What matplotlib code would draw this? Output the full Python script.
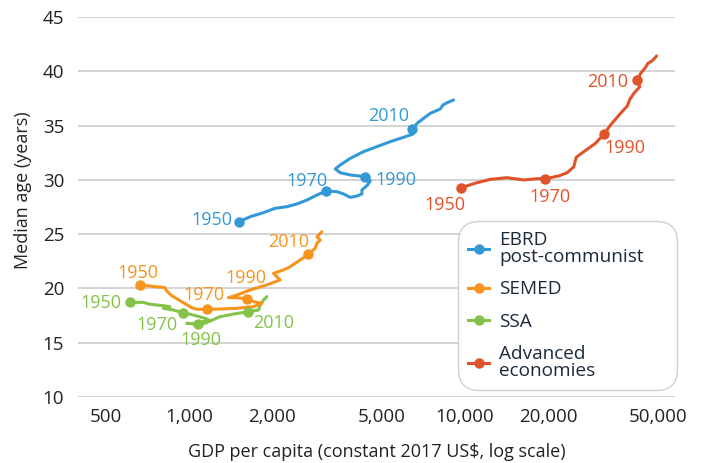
import matplotlib
matplotlib.use("Agg")
import matplotlib.pyplot as plt
from matplotlib.ticker import FixedLocator, FixedFormatter, NullLocator

plt.rcParams['font.family'] = ['Open Sans', 'DejaVu Sans']

# ---------------- data ----------------
years = ["1950", "1970", "1990", "2010"]

ebrd_gdp = [1518, 1665, 1860, 2051, 2261, 2458, 2672, 2904, 3140, 3432, 3628, 3837,
            4056, 4229, 4229, 4433, 4534, 4323, 3837, 3529, 3385, 3529, 3837, 4287,
            4794, 5359, 5989, 6476, 6422, 6695, 7076, 7484, 8134, 8316, 8598, 9089]
ebrd_age = [26.15, 26.6, 26.98, 27.38, 27.53, 27.78, 28.14, 28.6, 28.97, 28.91, 28.7, 28.39,
            28.51, 28.7, 29.07, 29.53, 29.93, 30.3, 30.45, 30.66, 31.0, 31.37, 31.98, 32.6,
            33.06, 33.52, 33.92, 34.22, 34.65, 35.2, 35.67, 36.13, 36.53, 36.9, 37.1, 37.36]
ebrd_mark_gdp = [1518, 3140, 4323, 6422]
ebrd_mark_age = [26.15, 28.97, 30.3, 34.65]

semed_gdp = [664, 818, 830, 866, 941, 1023, 1067, 1160, 1295, 1490, 1711, 1835, 1711,
             1619, 1490, 1388, 1490, 1664, 1913, 2138, 2022, 2198, 2324, 2526, 2708,
             2864, 2905, 2986, 2905, 3027]
semed_age = [20.32, 20.07, 19.76, 19.33, 18.78, 18.22, 18.08, 18.08, 18.1, 18.17, 18.32,
             18.63, 18.78, 19.03, 19.15, 19.15, 19.39, 19.86, 20.32, 20.78, 21.39, 21.7,
             22.0, 22.62, 23.14, 23.7, 24.16, 24.46, 24.76, 25.22]
semed_mark_gdp = [664, 1160, 1619, 2708]
semed_mark_age = [20.32, 18.08, 19.03, 23.14]

ssa_gdp = [611, 683, 712, 764, 807, 853, 807, 877, 953, 1037, 1143, 1192, 1112, 1081,
           981, 1060, 1143, 1192, 1295, 1448, 1641, 1784, 1809, 1860, 1913]
ssa_age = [18.72, 18.72, 18.57, 18.47, 18.41, 18.32, 18.17, 18.01, 17.76, 17.55, 17.25,
           17.03, 16.94, 16.7, 16.79, 16.72, 16.79, 17.0, 17.4, 17.64, 17.86, 18.01,
           18.47, 18.93, 19.24]
ssa_mark_gdp = [611, 953, 1081, 1641]
ssa_mark_age = [18.72, 17.76, 16.7, 17.86]

adv_gdp = [9668, 11050, 12355, 14200, 16310, 18240, 19550, 21840, 23440, 24770, 25270,
           26930, 29690, 31820, 33640, 36580, 38670, 39530, 40870, 42960, 42010, 43230,
           45070, 45940, 47660, 49410]
adv_age = [29.28, 29.74, 30.05, 30.2, 29.99, 30.11, 30.11, 30.36, 30.66, 31.21, 32.08,
           32.6, 33.37, 34.2, 35.05, 36.13, 36.8, 37.42, 37.97, 38.58, 39.2, 39.8, 40.37,
           40.73, 40.97, 41.41]
adv_mark_gdp = [9668, 19550, 31820, 42010]
adv_mark_age = [29.28, 30.11, 34.2, 39.2]

series_names = ["EBRD\npost-communist", "SEMED", "SSA", "Advanced\neconomies"]

x_ticks = [500, 1000, 2000, 5000, 10000, 20000, 50000]
x_tick_labels = ["500", "1,000", "2,000", "5,000", "10,000", "20,000", "50,000"]
y_ticks = [10, 15, 20, 25, 30, 35, 40, 45]

# ---------------- style ----------------
colors = ["#3399d6", "#f7941d", "#84c24a", "#e0532a"]
# label offsets (points) from marked dot to label centre
label_offsets = [
    [(-19.5, 2.5), (-14, 8.4), (22.5, -1.2), (-16.8, 10.8)],
    [(-1.8, 9.6), (-2.2, 11), (-0.5, 16), (-14, 9.8)],
    [(-20.7, 0.4), (-18.7, -7.6), (2.1, -10.1), (18.4, -7.2)],
    [(-11.3, -11.2), (3.6, -12.5), (15, -8.9), (-21, -0.5)],
]

fig = plt.figure(figsize=(7.03, 4.63), dpi=100)
ax = fig.add_axes([78 / 703, 1 - 397 / 463, 597 / 703, 380 / 463])

data = [
    (ebrd_gdp, ebrd_age, ebrd_mark_gdp, ebrd_mark_age),
    (semed_gdp, semed_age, semed_mark_gdp, semed_mark_age),
    (ssa_gdp, ssa_age, ssa_mark_gdp, ssa_mark_age),
    (adv_gdp, adv_age, adv_mark_gdp, adv_mark_age),
]
draw_order = [0, 3, 2, 1]
handles = {}
for i in draw_order:
    gx, ga, mx, ma = data[i]
    c = colors[i]
    ax.plot(gx, ga, color=c, lw=2.2, solid_capstyle='round', solid_joinstyle='round', zorder=3)
    ax.plot(mx, ma, linestyle='none', marker='o', ms=6.5, color=c, zorder=4)
    h, = ax.plot([], [], color=c, lw=2.2, marker='o', ms=6.5, label=series_names[i])
    handles[i] = h
    for (x, y), yr, off in zip(zip(mx, ma), years, label_offsets[i]):
        ax.annotate(yr, (x, y), xytext=(off[0], off[1] - 4.6), textcoords='offset points',
                    ha='center', va='baseline', color=c, fontsize=13, zorder=5)

ax.set_xscale('log')
ax.set_xlim(396, 57600)
ax.set_ylim(10, 45)
ax.xaxis.set_major_locator(FixedLocator(x_ticks))
ax.xaxis.set_major_formatter(FixedFormatter(x_tick_labels))
ax.xaxis.set_minor_locator(NullLocator())
ax.set_yticks(y_ticks)
ax.tick_params(axis='both', length=0, labelsize=13.5, colors='#222222')
ax.tick_params(axis='x', pad=8)
ax.tick_params(axis='y', pad=10)
ax.grid(axis='y', color='#cccccc', lw=1.2)
ax.set_axisbelow(True)
for s in ax.spines.values():
    s.set_visible(False)

ax.set_xlabel("GDP per capita (constant 2017 US$, log scale)", fontsize=13, color='#222222')
ax.set_ylabel("Median age (years)", fontsize=13, color='#222222')
ax.xaxis.label.set_va('center')
ax.xaxis.set_label_coords(0.5, -0.144)
ax.yaxis.label.set_va('center')
ax.yaxis.label.set_ha('center')
ax.yaxis.set_label_coords(-0.092, 0.545)

leg = ax.legend(handles=[handles[i] for i in range(4)], loc='lower left',
                bbox_to_anchor=(0.6365, 0.018, 0.367, 0.44), mode='expand',
                borderaxespad=0, fontsize=13.7,
                handlelength=1.1, handletextpad=0.5, borderpad=0.55,
                labelspacing=0.75, frameon=True, fancybox=True, labelcolor='#1b2a3a')
fr = leg.get_frame()
fr.set_boxstyle('round,pad=0,rounding_size=1.1')
fr.set_edgecolor('#d0d0d0')
fr.set_linewidth(1.0)
fr.set_alpha(1)
for t in leg.get_texts():
    t.set_linespacing(0.92)

fig.savefig("out.png", dpi=100)
